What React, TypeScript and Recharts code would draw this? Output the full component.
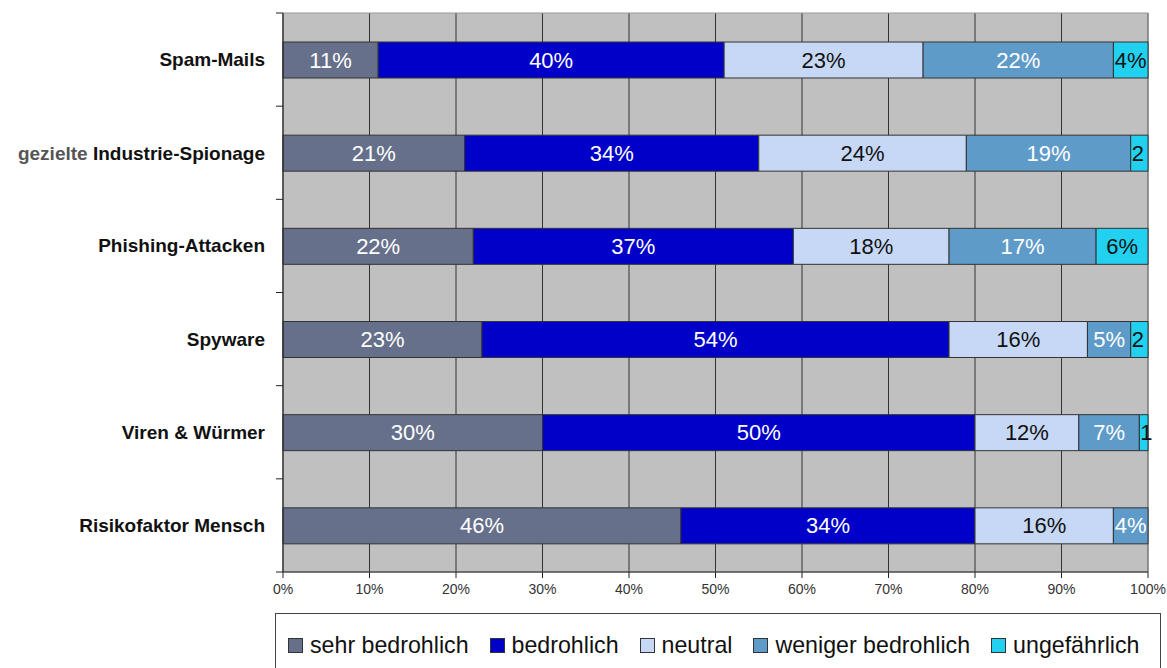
import React from "react";
import {
  BarChart,
  Bar,
  XAxis,
  YAxis,
  CartesianGrid,
  Legend,
  LabelList,
  ReferenceArea,
} from "recharts";

const categories = [
  "Spam-Mails",
  "gezielte Industrie-Spionage",
  "Phishing-Attacken",
  "Spyware",
  "Viren & Würmer",
  "Risikofaktor Mensch",
];
const sehrBedrohlich = [11, 21, 22, 23, 30, 46];
const bedrohlich = [40, 34, 37, 54, 50, 34];
const neutral = [23, 24, 18, 16, 12, 16];
const wenigerBedrohlich = [22, 19, 17, 5, 7, 4];
const ungefaehrlich: (number | null)[] = [4, 2, 6, 2, 1, null];
const xTicks = [0, 10, 20, 30, 40, 50, 60, 70, 80, 90, 100];

const seriesDefs = [
  { key: "sehr", name: "sehr bedrohlich", color: "#66708a", label: "#ffffff" },
  { key: "bedr", name: "bedrohlich", color: "#0000c8", label: "#ffffff" },
  { key: "neut", name: "neutral", color: "#c6d8f5", label: "#111111" },
  { key: "wen", name: "weniger bedrohlich", color: "#5f9bc8", label: "#ffffff" },
  { key: "ung", name: "ungefährlich", color: "#22d0f0", label: "#111111" },
];

const data = categories.map((c, i) => ({
  name: c,
  sehr: sehrBedrohlich[i],
  bedr: bedrohlich[i],
  neut: neutral[i],
  wen: wenigerBedrohlich[i],
  ung: ungefaehrlich[i],
}));

const FONT = "'Liberation Sans', Arial, Helvetica, sans-serif";
const LABEL_FS = 22;

const makeLabel = (color: string) => (props: any) => {
  const { x, y, width, height, value } = props;
  if (value == null || value === 0) return null;
  const full = `${value}%`;
  const digits = String(value).length;
  const est = digits * 0.556 * LABEL_FS + 0.889 * LABEL_FS;
  const fits = est <= width + 6;
  return (
    <text
      x={fits ? x + width / 2 : x + 1}
      y={y + height / 2}
      textAnchor={fits ? "middle" : "start"}
      dominantBaseline="central"
      fill={color}
      fontSize={LABEL_FS}
      fontFamily={FONT}
    >
      {fits ? full : String(value)}
    </text>
  );
};

const TICK_SIZE = 7;
const TICK_MARGIN = 11;

const CategoryTick = (props: any) => {
  const { x, y, payload, index, visibleTicksCount } = props;
  const half = payload && payload.offset ? payload.offset : 46.6;
  const axisX = x + TICK_SIZE + TICK_MARGIN;
  const label: string = payload.value;
  const isGez = label.startsWith("gezielte ");
  const last = index === (visibleTicksCount ?? categories.length) - 1;
  return (
    <g>
      <line x1={axisX - TICK_SIZE} x2={axisX} y1={y - half} y2={y - half} stroke="#222" strokeWidth={1} />
      {last && (
        <line x1={axisX - TICK_SIZE} x2={axisX} y1={y + half} y2={y + half} stroke="#222" strokeWidth={1} />
      )}
      <text
        x={x}
        y={y}
        textAnchor="end"
        dominantBaseline="central"
        fontSize={19}
        fontFamily={FONT}
        fill="#111"
        fontWeight="bold"
      >
        {isGez ? (
          <>
            <tspan fill="#555">gezielte </tspan>
            <tspan>{label.slice(9)}</tspan>
          </>
        ) : (
          label
        )}
      </text>
    </g>
  );
};

const LegendContent = () => (
  <div
    style={{
      boxSizing: "border-box",
      width: "100%",
      height: "100%",
      border: "1px solid #444",
      borderBottom: "none",
      background: "#fff",
      display: "flex",
      alignItems: "center",
      paddingLeft: 12,
      paddingTop: 9,
      fontFamily: FONT,
      fontSize: 23.2,
      color: "#111",
    }}
  >
    {seriesDefs.map((s, i) => (
      <div
        key={s.key}
        style={{ display: "flex", alignItems: "center", marginRight: i < seriesDefs.length - 1 ? 21 : 0 }}
      >
        <span
          style={{
            display: "inline-block",
            width: 13,
            height: 13,
            background: s.color,
            border: "1px solid #333",
            marginRight: 7,
          }}
        />
        <span>{s.name}</span>
      </div>
    ))}
  </div>
);

export default function App() {
  return (
    <div style={{ position: "absolute", left: 0, top: 0, width: 1167, height: 668, background: "#fff" }}>
      <BarChart
        width={1167}
        height={668}
        data={data}
        layout="vertical"
        margin={{ top: 13, right: 19, left: 0, bottom: 11 }}
        barSize={36}
      >
        <CartesianGrid horizontal={false} stroke="#333" fill="#c0c0c0" />
        <ReferenceArea x1={0} x2={100} fill="none" stroke="#999" strokeWidth={1} ifOverflow="visible" />
        <XAxis
          type="number"
          domain={[0, 100]}
          ticks={xTicks}
          tickFormatter={(v: number) => `${v}%`}
          height={30}
          tickSize={6}
          tickMargin={6}
          stroke="#222"
          tick={{ fill: "#333", fontSize: 14, fontFamily: FONT }}
          interval={0}
        />
        <YAxis
          type="category"
          dataKey="name"
          width={283}
          tickLine={false}
          tickSize={TICK_SIZE}
          tickMargin={TICK_MARGIN}
          stroke="#222"
          tick={<CategoryTick />}
          interval={0}
        />
        <Legend
          verticalAlign="bottom"
          content={<LegendContent />}
          wrapperStyle={{ left: 275, top: 613, width: 886, height: 55, bottom: "auto" }}
        />
        {seriesDefs.map((s) => (
          <Bar
            key={s.key}
            dataKey={s.key}
            name={s.name}
            stackId="a"
            fill={s.color}
            stroke="#333"
            strokeWidth={1}
            isAnimationActive={false}
          >
            <LabelList dataKey={s.key} content={makeLabel(s.label)} />
          </Bar>
        ))}
      </BarChart>
    </div>
  );
}
